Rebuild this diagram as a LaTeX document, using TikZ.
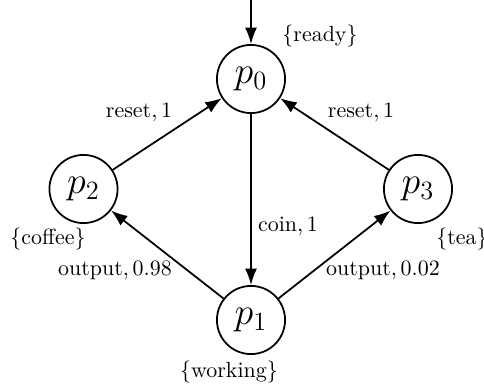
\documentclass[tikz,border=0pt]{standalone}
\usetikzlibrary{arrows.meta}
\begin{document}
\begin{tikzpicture}[x=0.455pt,y=-0.455pt,
  state/.style={circle,draw,line width=0.8pt,minimum size=31pt,inner sep=0pt,font=\LARGE},
  trans/.style={line width=0.8pt,-{Latex[length=7.5pt,width=5.5pt]}},
  lbl/.style={inner sep=0pt,anchor=center}]
\useasboundingbox (0,0) rectangle (484,390);
\node[state] (p0) at (251,79) {$p_0$};
\node[state] (p2) at (83.5,189) {$p_2$};
\node[state] (p3) at (418,189) {$p_3$};
\node[state] (p1) at (251,320) {$p_1$};
\coordinate (init) at (251,-5);
\draw[trans] (init) -- (p0);
\draw[trans] (p2) -- (p0);
\draw[trans] (p3) -- (p0);
\draw[trans] (p0) -- (p1);
\draw[trans] (p1) -- (p2);
\draw[trans] (p1) -- (p3);
\node[lbl] (lready) at (320,36) {$\{$ready$\}$};
\node[lbl] (lcoffee) at (48,239) {$\{$coffee$\}$};
\node[lbl] (ltea) at (462,239) {$\{$tea$\}$};
\node[lbl] (lworking) at (229,372) {$\{$working$\}$};
\node[lbl] (r1) at (139,113) {reset$,1$};
\node[lbl] (r2) at (361,113) {reset$,1$};
\node[lbl] (c1) at (288,226) {coin$,1$};
\node[lbl] (o1) at (115,271) {output$,0.98$};
\node[lbl] (o2) at (383,271) {output$,0.02$};
\end{tikzpicture}
\end{document}
